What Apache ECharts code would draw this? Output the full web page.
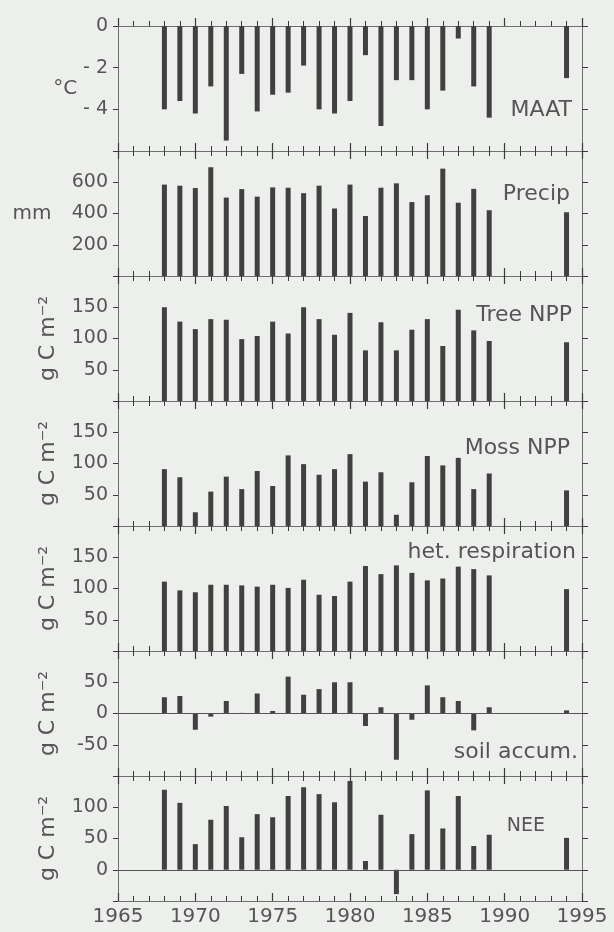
<!DOCTYPE html>
<html>
<head>
<meta charset="utf-8">
<title>Annual climate and carbon fluxes</title>
<script src="https://cdn.jsdelivr.net/npm/echarts@6/dist/echarts.min.js"></script>
<style>
  html, body { margin: 0; padding: 0; background: #edefec; }
  #main { width: 614px; height: 932px; }
</style>
</head>
<body>
<div id="main"></div>
<script>
// years with data (gap 1990-1993)
var years = [1968, 1969, 1970, 1971, 1972, 1973, 1974, 1975, 1976, 1977, 1978,
  1979, 1980, 1981, 1982, 1983, 1984, 1985, 1986, 1987, 1988, 1989, 1994];

var maat = [-4.0, -3.6, -4.2, -2.9, -5.5, -2.3, -4.1, -3.3, -3.2, -1.9, -4.0,
  -4.2, -3.6, -1.4, -4.8, -2.6, -2.6, -4.0, -3.1, -0.6, -2.9, -4.4, -2.5];
var precip = [585, 578, 563, 696, 502, 556, 508, 567, 565, 530, 578,
  432, 585, 384, 565, 593, 473, 517, 687, 469, 558, 421, 408];
var treeNpp = [150, 127, 115, 131, 130, 99, 104, 127, 108, 150, 131,
  106, 141, 81, 126, 81, 114, 131, 88, 146, 113, 96, 94];
var mossNpp = [91, 78, 22, 55, 79, 59, 88, 64, 113, 99, 82,
  91, 115, 71, 86, 18, 70, 112, 97, 109, 59, 84, 57];
var hetResp = [111, 97, 94, 106, 106, 105, 103, 106, 101, 114, 90,
  88, 111, 136, 123, 137, 125, 113, 116, 135, 131, 121, 99];
var soilAccum = [26, 28, -26, -5, 20, 1, 32, 4, 59, 30, 39,
  50, 50, -20, 10, -74, -10, 45, 26, 20, -27, 10, 5];
var nee = [128, 107, 41, 80, 102, 52, 89, 84, 118, 132, 121,
  108, 142, 14, 88, -39, 57, 127, 66, 118, 38, 56, 51];

// labelled ticks on the y axes of each panel
var maatTicks = [-4, -2, 0];
var precipTicks = [200, 400, 600];
var fluxTicks = [50, 100, 150];
var soilTicks = [-50, 0, 50];
var neeTicks = [0, 50, 100];

var panelData = [maat, precip, treeNpp, mossNpp, hetResp, soilAccum, nee];
var panelTicks = [maatTicks, precipTicks, fluxTicks, fluxTicks, fluxTicks, soilTicks, neeTicks];
var panelLabels = ["MAAT", "Precip", "Tree NPP", "Moss NPP", "het. respiration", "soil accum.", "NEE"];
var panelUnits = ["°C", "mm", "g C m⁻²", "g C m⁻²", "g C m⁻²", "g C m⁻²", "g C m⁻²"];
var yMin = [-6, 0, 0, 0, 0, -100, -50];
var yMax = [0, 800, 200, 200, 200, 100, 150];
var yStep = [2, 200, 50, 50, 50, 50, 50];

// layout
var FONT = "DejaVu Sans";
var TEXT = "#555";
var AXIS = "#6f6f6f";
var TICK = "#3a3a3a";
var BAR = "#404040";
var gridLeft = 118;
var gridRight = 32;
var gridTop0 = 26;
var gridH = 125;
var labelPos = [
  [572, 110, 22], [570, 194, 22], [572, 315, 22], [570, 448, 22],
  [576, 552, 22], [578, 752, 22], [545, 826, 19]
];

var chartDom = document.getElementById("main");
var myChart = echarts.init(chartDom);
var option;

var grids = [];
var xAxes = [];
var yAxes = [];
var series = [];
var graphics = [];

panelData.forEach(function (vals, i) {
  grids.push({
    left: gridLeft,
    right: gridRight,
    top: gridTop0 + i * gridH,
    height: gridH,
  });

  // bottom and top x axes; ticks point into the panel so they cross at the joins
  ["bottom", "top"].forEach(function (pos) {
    var isLast = i === panelData.length - 1 && pos === "bottom";
    xAxes.push({
      gridIndex: i,
      type: "value",
      position: pos,
      min: 1965,
      max: 1995,
      interval: 5,
      axisLine: { show: true, onZero: false, lineStyle: { color: AXIS } },
      splitLine: { show: false },
      axisTick: {
        show: true,
        inside: !(i === 0 && pos === "top"),
        length: 8,
        lineStyle: { color: TICK, width: 1.2 },
      },
      minorTick: {
        show: true,
        splitNumber: 5,
        length: 5,
        lineStyle: { color: TICK, width: 1 },
      },
      axisLabel: {
        show: isLast,
        margin: 6,
        fontFamily: FONT,
        fontSize: 20,
        color: TEXT,
        formatter: function (v) {
          return String(v);
        },
      },
    });
  });

  var rotated = i >= 2;
  var shown = panelTicks[i];
  yAxes.push({
    gridIndex: i,
    type: "value",
    position: "left",
    min: yMin[i],
    max: yMax[i],
    interval: yStep[i],
    axisLine: { show: true, onZero: false, lineStyle: { color: AXIS } },
    splitLine: { show: false },
    axisTick: {
      show: true,
      length: 5,
      lineStyle: { color: TICK, width: 1 },
    },
    axisLabel: {
      margin: 10,
      fontFamily: FONT,
      fontSize: 19,
      color: TEXT,
      formatter: function (v) {
        if (shown.indexOf(v) < 0) return "";
        if (i === 0 && v < 0) return "- " + Math.abs(v);
        return String(v);
      },
    },
    name: panelUnits[i],
    nameLocation: "middle",
    nameRotate: rotated ? 90 : 0,
    nameGap: i === 0 ? 51 : i === 1 ? 86 : 70,
    nameTextStyle: {
      fontFamily: FONT,
      fontSize: rotated ? 22 : 20,
      color: TEXT,
      align: "center",
      verticalAlign: "middle",
      padding: i === 0 ? [8, 0, 0, 0] : 0,
    },
  });
  yAxes.push({
    gridIndex: i,
    type: "value",
    position: "right",
    min: yMin[i],
    max: yMax[i],
    interval: yStep[i],
    axisLine: { show: true, onZero: false, lineStyle: { color: AXIS } },
    splitLine: { show: false },
    axisTick: {
      show: true,
      length: 6,
      lineStyle: { color: TICK, width: 1 },
    },
    axisLabel: { show: false },
  });

  var s = {
    name: panelLabels[i],
    type: "bar",
    xAxisIndex: 2 * i,
    yAxisIndex: 2 * i,
    barWidth: 5,
    itemStyle: { color: BAR },
    data: years.map(function (y, k) {
      return [y, vals[k]];
    }),
  };
  // zero line for the panels that cross zero
  if (yMin[i] < 0 && yMax[i] > 0) {
    s.markLine = {
      silent: true,
      symbol: "none",
      label: { show: false },
      lineStyle: { color: "#555", type: "solid", width: 1 },
      data: [{ yAxis: 0 }],
    };
  }
  series.push(s);

  graphics.push({
    type: "text",
    x: labelPos[i][0],
    y: labelPos[i][1],
    style: {
      text: panelLabels[i],
      fill: TEXT,
      font: labelPos[i][2] + "px '" + FONT + "'",
      align: "right",
      verticalAlign: "middle",
    },
  });
});

option = {
  backgroundColor: "#edefec",
  animation: false,
  grid: grids,
  xAxis: xAxes,
  yAxis: yAxes,
  series: series,
  graphic: graphics,
};

option && myChart.setOption(option);
</script>
</body>
</html>
